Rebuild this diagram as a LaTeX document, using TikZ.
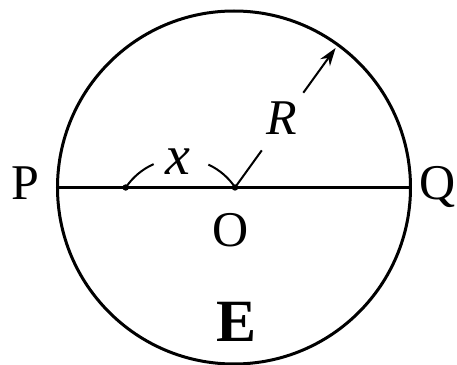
\documentclass[tikz,border=0pt]{standalone}
\usepackage{fontspec}
\setmainfont{Liberation Serif}
\usetikzlibrary{arrows.meta,calc}
\begin{document}
\begin{tikzpicture}[x=0.5pt,y=0.5pt,
  thickline/.style={line width=1.5pt},
  thinline/.style={line width=1pt},
  lbl/.style={anchor=base,inner sep=0pt,font=\fontsize{25}{25}\selectfont},
  dotnode/.style={circle,fill=black,inner sep=0pt,minimum size=3.2pt}]
\useasboundingbox (0,0) rectangle (457,365);
\coordinate (C) at (234,177.5);
\draw[thickline] (C) circle[radius=176.5];
\coordinate (Pend) at (57.5,177.5);
\coordinate (Qend) at (410.5,177.5);
\draw[thickline] (Pend) -- (Qend);
\node[dotnode] (A) at (125.7,177.5) {};
\node[dotnode] (O) at (235,177.5) {};
% x arcs
\coordinate (ac) at (180.5,140.6);
\draw[thinline] ([shift={(146:66)}]ac) arc[start angle=146,end angle=114,radius=66];
\draw[thinline] ([shift={(65:66)}]ac) arc[start angle=65,end angle=34,radius=66];
% radius R
\coordinate (r1) at ($(O)+(54.2:45.8)$);
\coordinate (r2) at ($(O)+(54.2:116.8)$);
\coordinate (r3) at ($(O)+(54.2:172)$);
\draw[thinline] (O.center) -- (r1);
\draw[thinline,-{Stealth[length=9pt,width=6pt]}] (r2) -- (r3);
% labels
\node[lbl] (P) at (25,165) {P};
\node[lbl] (Q) at (438,165) {Q};
\node[lbl] (Olbl) at (231,118.3) {O};
\node[lbl,font=\fontsize{30}{30}\selectfont\bfseries] (E) at (236.7,23.3) {E};
\node[lbl] (R) at (281.7,230) {\textit{R}};
\node[lbl,font=\fontsize{28}{28}\selectfont] (X) at (178,190) {\textit{x}};
\end{tikzpicture}
\end{document}
